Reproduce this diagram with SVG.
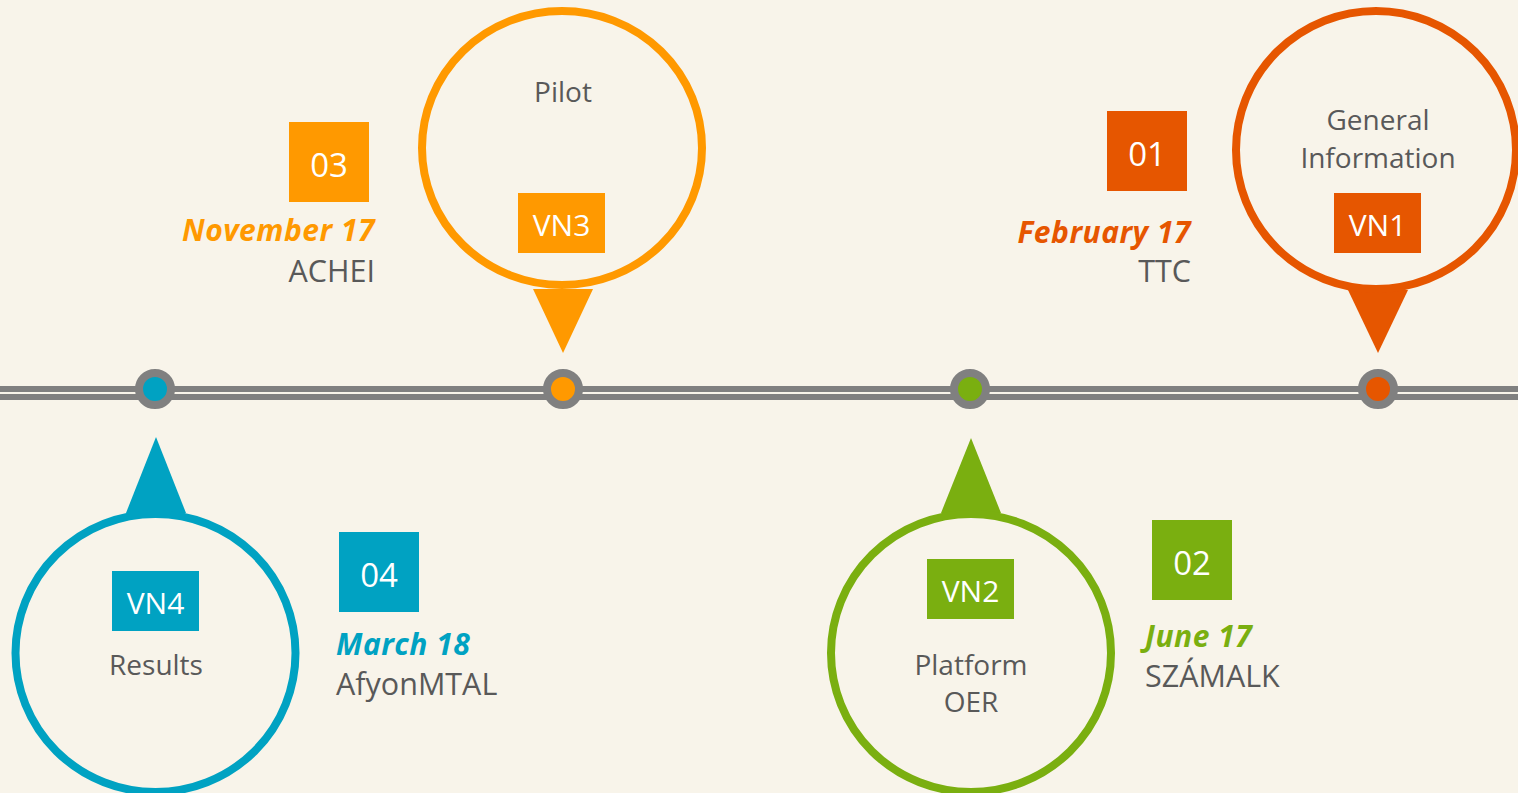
<svg xmlns="http://www.w3.org/2000/svg" width="1518" height="793" viewBox="0 0 1518 793">
<style>
.bg{fill:#F8F4EA}
.ring{fill:#F8F4EA;stroke-width:8}
.lbl{font-family:"Open Sans","Liberation Sans",sans-serif;font-size:28px;fill:#595959;text-anchor:middle}
.box{font-family:"Open Sans","Liberation Sans",sans-serif;font-size:30px;fill:#FFFFFF;text-anchor:middle}
.num{font-family:"Open Sans","Liberation Sans",sans-serif;font-size:33px;fill:#FFFFFF;text-anchor:middle}
.date{font-family:"Open Sans","Liberation Sans",sans-serif;font-size:30px;font-weight:bold;font-style:italic;letter-spacing:0.5px}
.org{font-family:"Open Sans","Liberation Sans",sans-serif;font-size:30.5px;fill:#595959}
.dot{stroke:#808080;stroke-width:8}
</style>
<rect class="bg" x="0" y="0" width="1518" height="793"/>
<g id="connectors">
<rect x="0" y="386" width="1518" height="6" fill="#808080"/>
<rect x="0" y="394" width="1518" height="6" fill="#808080"/>
</g>
<g id="vn1">
<polygon points="1348,290 1408,290 1378,353" fill="#E65600"/>
<ellipse class="ring" cx="1376" cy="150" rx="140" ry="139" stroke="#E65600"/>
<text class="lbl" x="1378" y="130">General</text>
<text class="lbl" x="1378" y="168">Information</text>
<rect x="1334" y="193" width="87" height="60" fill="#E65600"/>
<text class="box" x="1377.5" y="236">VN1</text>
<circle class="dot" cx="1378" cy="389" r="16" fill="#E65600"/>
<rect x="1107" y="111" width="80" height="80" fill="#E65600"/>
<text class="num" x="1147" y="166">01</text>
<text class="date" x="1191" y="243" text-anchor="end" fill="#E65600">February 17</text>
<text class="org" x="1191" y="282" text-anchor="end">TTC</text>
</g>
<g id="vn2">
<polygon points="941,513 1001,513 971,438" fill="#7AAF10"/>
<ellipse class="ring" cx="971" cy="653" rx="140" ry="139" stroke="#7AAF10"/>
<rect x="927" y="559" width="87" height="60" fill="#7AAF10"/>
<text class="box" x="970.5" y="602">VN2</text>
<text class="lbl" x="971" y="675">Platform</text>
<text class="lbl" x="971" y="712">OER</text>
<circle class="dot" cx="970" cy="389" r="16" fill="#7AAF10"/>
<rect x="1152" y="520" width="80" height="80" fill="#7AAF10"/>
<text class="num" x="1192" y="575">02</text>
<text class="date" x="1145" y="647" fill="#7AAF10">June 17</text>
<text class="org" x="1145" y="687">SZÁMALK</text>
</g>
<g id="vn3">
<polygon points="533,289 593,289 563,353" fill="#FF9900"/>
<ellipse class="ring" cx="562" cy="148" rx="140" ry="137" stroke="#FF9900"/>
<text class="lbl" x="563" y="102">Pilot</text>
<rect x="518" y="193" width="87" height="60" fill="#FF9900"/>
<text class="box" x="561.5" y="236">VN3</text>
<circle class="dot" cx="563" cy="389" r="16" fill="#FF9900"/>
<rect x="289" y="122" width="80" height="80" fill="#FF9900"/>
<text class="num" x="329" y="177">03</text>
<text class="date" x="375" y="241" text-anchor="end" fill="#FF9900">November 17</text>
<text class="org" x="375" y="282" text-anchor="end">ACHEI</text>
</g>
<g id="vn4">
<polygon points="126,513 186,513 156,437" fill="#00A2C2"/>
<ellipse class="ring" cx="155.5" cy="653" rx="140" ry="139" stroke="#00A2C2"/>
<rect x="112" y="571" width="87" height="60" fill="#00A2C2"/>
<text class="box" x="155.5" y="614">VN4</text>
<text class="lbl" x="156" y="675">Results</text>
<circle class="dot" cx="155" cy="389" r="16" fill="#00A2C2"/>
<rect x="339" y="532" width="80" height="80" fill="#00A2C2"/>
<text class="num" x="379" y="587">04</text>
<text class="date" x="336" y="655" fill="#00A2C2">March 18</text>
<text class="org" x="336" y="695">AfyonMTAL</text>
</g>
</svg>
